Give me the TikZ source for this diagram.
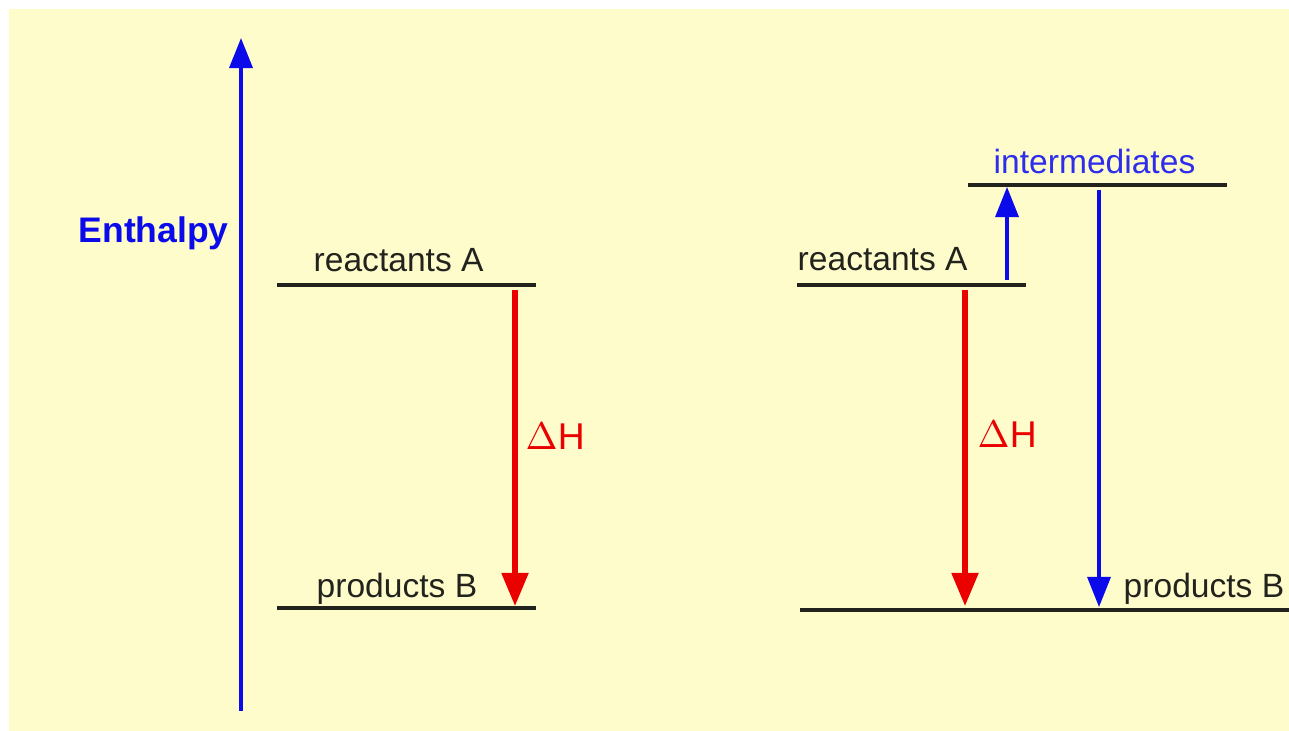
\documentclass[tikz,border=0pt]{standalone}
\usepackage{fontspec}
\setmainfont{Liberation Sans}
\usetikzlibrary{arrows.meta}
\definecolor{paleyellow}{RGB}{255,252,204}
\definecolor{axisblue}{RGB}{10,10,235}
\definecolor{textblue}{RGB}{45,45,235}
\definecolor{dhred}{RGB}{235,0,0}
\definecolor{levelgrey}{RGB}{35,35,30}

\begin{document}
\begin{tikzpicture}[
    x=0.01cm,
    y=-0.01cm,
    level/.style={line width=1pt, levelgrey},
    lbl/.style={font=\fontsize{9.55}{12}\selectfont, text=levelgrey, inner sep=0pt, anchor=base west},
    dh/.style={font=\fontsize{10.6}{12}\selectfont, text=dhred, inner sep=0pt, anchor=base west},
    redarrow/.style={dhred, line width=1.45pt, -{Triangle[length=0.33cm, width=0.26cm]}},
    bluearrow/.style={axisblue, line width=0.95pt, -{Triangle[length=0.3cm, width=0.23cm]}}
]
\useasboundingbox (0,0) rectangle (1289,731);
\fill[paleyellow] (9,9) rectangle (1289,731);

% enthalpy axis
\coordinate (axisbot) at (241,711);
\coordinate (axistop) at (241,38);
\draw[bluearrow] (axisbot) -- (axistop);
\node[font=\bfseries\fontsize{10.1}{12}\selectfont, text=axisblue, inner sep=0pt, anchor=base west] (enthalpy) at (78,243) {Enthalpy};

% left: direct route
\coordinate (reacL1) at (277,285);
\coordinate (reacL2) at (536,285);
\coordinate (prodL1) at (277,608);
\coordinate (prodL2) at (536,608);
\draw[level] (reacL1) -- (reacL2);
\draw[level] (prodL1) -- (prodL2);
\node[lbl] (reacLlbl) at (313,272) {reactants A};
\node[lbl] (prodLlbl) at (316,597) {products B};
\coordinate (dhLtop) at (515,290);
\coordinate (dhLbot) at (515,606);
\draw[redarrow] (dhLtop) -- (dhLbot);
\node[dh] (dhL) at (525,449) {$\Delta$H};

% right: route through intermediates
\coordinate (reacR1) at (797,285);
\coordinate (reacR2) at (1026,285);
\coordinate (interR1) at (968,185);
\coordinate (interR2) at (1227,185);
\coordinate (prodR1) at (800,610);
\coordinate (prodR2) at (1289,610);
\draw[level] (reacR1) -- (reacR2);
\draw[level] (interR1) -- (interR2);
\draw[level] (prodR1) -- (prodR2);
\node[lbl] (reacRlbl) at (797,271) {reactants A};
\node[lbl, text=textblue] (interlbl) at (993,174) {intermediates};
\node[lbl] (prodRlbl) at (1123,597) {products B};
\coordinate (dhRtop) at (965,290);
\coordinate (dhRbot) at (965,606);
\draw[redarrow] (dhRtop) -- (dhRbot);
\node[dh] (dhR) at (977,448) {$\Delta$H};
\coordinate (upbot) at (1007,280);
\coordinate (uptop) at (1007,187);
\draw[bluearrow] (upbot) -- (uptop);
\coordinate (downtop) at (1099,190);
\coordinate (downbot) at (1099,607);
\draw[bluearrow] (downtop) -- (downbot);

\end{tikzpicture}
\end{document}
